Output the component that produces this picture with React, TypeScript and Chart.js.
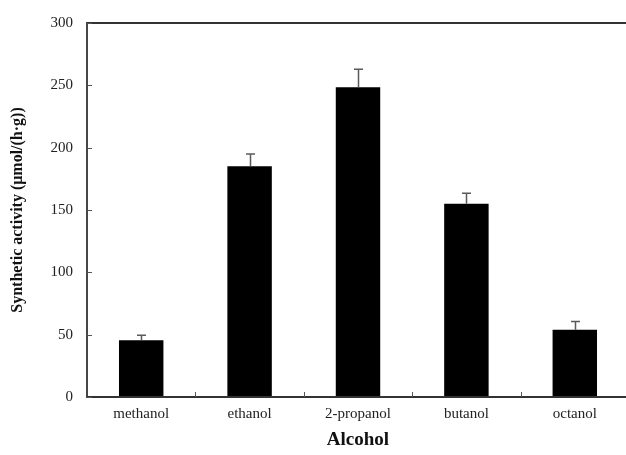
import React, { useEffect, useRef } from "react";
import { Chart, registerables } from "chart.js";

Chart.register(...registerables);

const categories = ["methanol", "ethanol", "2-propanol", "butanol", "octanol"];
const activity = [45.5, 185, 248.5, 155, 54];
const activityError = [4, 10, 14.5, 8.5, 6.5];
const yTicks = [0, 50, 100, 150, 200, 250, 300];

const SERIF = "'Liberation Serif', 'Times New Roman', serif";
const AXIS_COLOR = "#333333";

// Upward-only error bars with a small cap, drawn over each bar
const errorBarPlugin = {
  id: "errorBars",
  afterDatasetsDraw(chart: any) {
    const { ctx } = chart;
    const yScale = chart.scales.y;
    const meta = chart.getDatasetMeta(0);
    ctx.save();
    ctx.strokeStyle = "#5a5a5a";
    ctx.lineWidth = 1.5;
    meta.data.forEach((bar: any, i: number) => {
      const yTop = yScale.getPixelForValue(activity[i]);
      const yErr = yScale.getPixelForValue(activity[i] + activityError[i]);
      const x = Math.round(bar.x) + 0.5;
      ctx.beginPath();
      ctx.moveTo(x, yTop);
      ctx.lineTo(x, yErr);
      ctx.moveTo(x - 4.5, yErr);
      ctx.lineTo(x + 4.5, yErr);
      ctx.stroke();
    });
    ctx.restore();
  },
};

// Box frame with inward-pointing tick marks
const framePlugin = {
  id: "frame",
  afterDraw(chart: any) {
    const { ctx, chartArea } = chart;
    const { left, right, top, bottom } = chartArea;
    const yScale = chart.scales.y;
    const xScale = chart.scales.x;
    ctx.save();
    ctx.strokeStyle = AXIS_COLOR;
    ctx.lineWidth = 1.8;
    ctx.beginPath();
    ctx.moveTo(left, top);
    ctx.lineTo(right, top);
    ctx.lineTo(right, bottom);
    ctx.lineTo(left, bottom);
    ctx.closePath();
    ctx.stroke();

    ctx.lineWidth = 1;
    ctx.strokeStyle = "#555";
    ctx.beginPath();
    yTicks.forEach((v) => {
      const y = Math.round(yScale.getPixelForValue(v)) + 0.5;
      ctx.moveTo(left, y);
      ctx.lineTo(left + 5, y);
    });
    for (let i = 1; i < categories.length; i++) {
      const x =
        Math.round((xScale.getPixelForValue(i - 1) + xScale.getPixelForValue(i)) / 2) + 0.5;
      ctx.moveTo(x, bottom);
      ctx.lineTo(x, bottom - 5);
    }
    ctx.stroke();
    ctx.restore();
  },
};

export default function App() {
  const canvasRef = useRef<HTMLCanvasElement | null>(null);

  useEffect(() => {
    if (!canvasRef.current) return;
    const chart = new Chart(canvasRef.current, {
      type: "bar",
      data: {
        labels: categories,
        datasets: [
          {
            data: activity,
            backgroundColor: "#000000",
            borderWidth: 0,
            categoryPercentage: 1,
            barPercentage: 0.41,
          },
        ],
      },
      options: {
        animation: false,
        responsive: true,
        maintainAspectRatio: false,
        layout: { padding: { top: 18, right: 11, left: 0, bottom: 0 } },
        plugins: {
          legend: { display: false },
          tooltip: { enabled: false },
        },
        scales: {
          x: {
            grid: { display: false, drawTicks: false },
            border: { display: false },
            ticks: {
              color: "#222",
              padding: 8,
              font: { family: SERIF, size: 15 },
            },
            title: {
              display: true,
              text: "Alcohol",
              color: "#111",
              padding: { top: 0, bottom: 4 },
              font: { family: SERIF, size: 19, weight: "bold" },
            },
            afterFit(scale: any) {
              scale.height = 58;
            },
          },
          y: {
            min: 0,
            max: 300,
            grid: { display: false, drawTicks: false },
            border: { display: false },
            ticks: {
              stepSize: 50,
              color: "#222",
              padding: 14,
              font: { family: SERIF, size: 15 },
            },
            title: {
              display: true,
              text: "Synthetic activity (μmol/(h·g))",
              color: "#111",
              padding: { top: 8, bottom: 0 },
              font: { family: SERIF, size: 16, weight: "bold" },
            },
            afterFit(scale: any) {
              scale.width = 87;
            },
          },
        },
      },
      plugins: [errorBarPlugin, framePlugin],
    });
    return () => chart.destroy();
  }, []);

  return (
    <div
      style={{
        position: "fixed",
        left: 0,
        top: 0,
        width: 640,
        height: 455,
        background: "#fff",
      }}
    >
      <canvas ref={canvasRef} />
    </div>
  );
}
